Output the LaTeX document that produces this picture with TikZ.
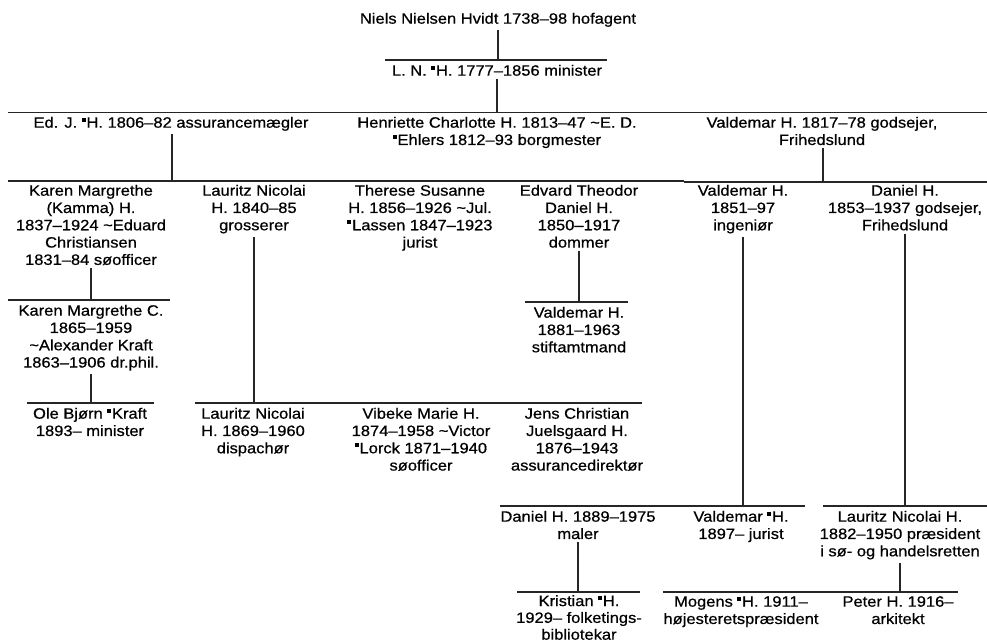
\documentclass[tikz,border=0pt]{standalone}
\usepackage{fontspec}
\setmainfont{Liberation Sans}[FakeStretch=1.1,FakeBold=0.6]
\newcommand{\dm}{\raisebox{0.4em}{\rule{0.25em}{0.26em}}\kern0.06em}
\newcommand{\tl}{\textasciitilde}
\begin{document}
\begin{tikzpicture}[x=1pt,y=-1pt,
  person/.style={anchor=north,align=center,inner xsep=0pt,inner ysep=3pt,
    font=\fontsize{15}{17.3}\selectfont,text=black},
  line/.style={line width=1.3pt,draw=black!85}]
\useasboundingbox[fill=white] (0,0) rectangle (987,641);

% people
\node[person] (top) at (498,9.6) {Niels Nielsen Hvidt 1738–98 hofagent};
\node[person] (ln) at (497,61.6) {L. N. \dm H. 1777–1856 minister};

\node[person] (edj) at (171,113.6) {Ed. J. \dm H. 1806–82 assurancemægler};
\node[person] (hen) at (497,113.6) {Henriette Charlotte H. 1813–47 \tl E. D.\\\dm Ehlers 1812–93 borgmester};
\node[person] (val1) at (822,113.6) {Valdemar H. 1817–78 godsejer,\\Frihedslund};

\node[person] (karen) at (91,181.6) {Karen Margrethe\\(Kamma) H.\\1837–1924 \tl Eduard\\Christiansen\\1831–84 søofficer};
\node[person] (laur1) at (254,181.6) {Lauritz Nicolai\\H. 1840–85\\grosserer};
\node[person] (ther) at (420,181.6) {Therese Susanne\\H. 1856–1926 \tl Jul.\\\dm Lassen 1847–1923\\jurist};
\node[person] (edv) at (579,181.6) {Edvard Theodor\\Daniel H.\\1850–1917\\dommer};
\node[person] (val2) at (743,181.6) {Valdemar H.\\1851–97\\ingeniør};
\node[person] (dan1) at (905,181.6) {Daniel H.\\1853–1937 godsejer,\\Frihedslund};

\node[person] (karenc) at (91,301.6) {Karen Margrethe C.\\1865–1959\\\tl Alexander Kraft\\1863–1906 dr.phil.};
\node[person] (val3) at (579,303.6) {Valdemar H.\\1881–1963\\stiftamtmand};

\node[person] (ole) at (90,404.6) {Ole Bjørn \dm Kraft\\1893– minister};
\node[person] (laur2) at (253,404.6) {Lauritz Nicolai\\H. 1869–1960\\dispachør};
\node[person] (vib) at (421,404.6) {Vibeke Marie H.\\1874–1958 \tl Victor\\\dm Lorck 1871–1940\\søofficer};
\node[person] (jens) at (577,404.6) {Jens Christian\\Juelsgaard H.\\1876–1943\\assurancedirektør};

\node[person] (dan2) at (578,507.6) {Daniel H. 1889–1975\\maler};
\node[person] (val4) at (741,507.6) {Valdemar \dm H.\\1897– jurist};
\node[person] (laur3) at (900,507.6) {Lauritz Nicolai H.\\1882–1950 præsident\\i sø- og handelsretten};

\node[person,font=\fontsize{15}{16.8}\selectfont] (kris) at (579,592) {Kristian \dm H.\\1929– folketings-\\bibliotekar};
\node[person] (mog) at (741,593) {Mogens \dm H. 1911–\\højesteretspræsident};
\node[person] (pet) at (898,593) {Peter H. 1916–\\arkitekt};

% sibling bars
\coordinate (b1L) at (385,60);  \coordinate (b1R) at (607,60);
\coordinate (b2L) at (8,112.5); \coordinate (b2R) at (987,112.5);
\coordinate (b3L) at (8,181);   \coordinate (b3R) at (684,181);
\coordinate (b4L) at (684,182); \coordinate (b4R) at (987,182);
\coordinate (b5L) at (8,300);   \coordinate (b5R) at (170,300);
\coordinate (b6L) at (525,302); \coordinate (b6R) at (628,302);
\coordinate (b7L) at (27,403);  \coordinate (b7R) at (154,403);
\coordinate (b8L) at (195,403); \coordinate (b8R) at (642,403);
\coordinate (b9L) at (500,506); \coordinate (b9R) at (805,506);
\coordinate (b10L) at (823,506); \coordinate (b10R) at (987,506);
\coordinate (b11L) at (517,592); \coordinate (b11R) at (640,592);
\coordinate (b12L) at (663,592); \coordinate (b12R) at (958,592);

\foreach \i in {1,...,12} \draw[line] (b\i L) -- (b\i R);

% descent lines
\draw[line] (top.south) -- (top.south |- b1L);
\draw[line] (ln.south) -- (ln.south |- b2L);
\draw[line] ([xshift=1pt]edj.south) -- ([xshift=1pt]edj.south |- b3L);
\draw[line] ([xshift=1pt]val1.south) -- ([xshift=1pt]val1.south |- b4L);
\draw[line] (karen.south) -- (karen.south |- b5L);
\draw[line] (edv.south) -- (edv.south |- b6L);
\draw[line] (karenc.south) -- (karenc.south |- b7L);
\draw[line] (laur1.south) -- (laur1.south |- b8L);
\draw[line] (val2.south) -- (val2.south |- b9L);
\draw[line] (dan1.south) -- (dan1.south |- b10L);
\draw[line] (dan2.south) -- (dan2.south |- b11L);
\draw[line] (laur3.south) -- (laur3.south |- b12L);
\end{tikzpicture}
\end{document}
